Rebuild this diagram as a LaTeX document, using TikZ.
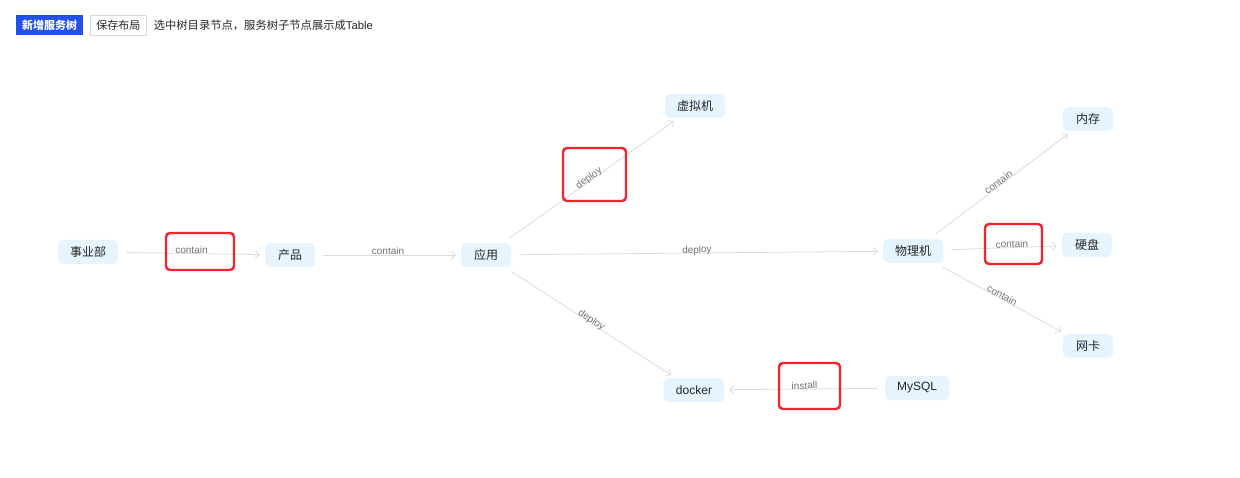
\documentclass[tikz,border=0pt]{standalone}
\usepackage{fontspec}
\setmainfont{Noto Sans CJK SC}
\newfontfamily\latinfont{Liberation Sans}
\usetikzlibrary{arrows.meta,positioning}

\definecolor{nodefill}{HTML}{E6F4FF}
\definecolor{edgegray}{HTML}{DCDCDC}
\definecolor{labelgray}{HTML}{737373}
\definecolor{markred}{HTML}{F5222D}
\definecolor{btnblue}{HTML}{2250E8}
\definecolor{btnborder}{HTML}{D9D9D9}
\definecolor{textdark}{HTML}{262626}

\tikzset{
  treenode/.style={rectangle, rounded corners=5pt, fill=nodefill, text=textdark,
    minimum height=24pt, minimum width=50pt, inner xsep=12pt,
    font=\fontsize{12}{14}\selectfont},
  rel/.style={draw=edgegray, line width=0.8pt,
    -{Straight Barb[length=4pt,width=8pt]}, shorten <=8pt, shorten >=5pt},
  rellabel/.style={sloped, anchor=base, inner sep=0pt, text=labelgray,
    font=\latinfont\fontsize{10}{12}\selectfont},
  markbox/.style={draw=markred, line width=2.4pt, rounded corners=4pt},
  btnmain/.style={rectangle, fill=btnblue, text=white, minimum height=20pt,
    inner xsep=6pt, font=\bfseries\fontsize{11}{13}\selectfont},
  btnplain/.style={rectangle, draw=btnborder, fill=white, text=textdark,
    minimum height=20pt, inner xsep=6pt, font=\fontsize{11}{13}\selectfont},
}

\begin{document}
\begin{tikzpicture}[x=1pt, y=-1pt]
        \useasboundingbox[fill=white] (0,0) rectangle (1240,478);

        % toolbar
        \node[btnmain] (addtree) at (49.5,25) {新增服务树};
        \node[btnplain, right=7pt of addtree] (savelayout) {保存布局};
        \node[right=7pt of savelayout, inner sep=0pt, text=textdark,
              font=\fontsize{11.3}{13}\selectfont] (hint)
              {选中树目录节点，服务树子节点展示成{\latinfont Table}};

        % tree nodes
        \node[treenode] (dept) at (88, 252) {事业部};
        \node[treenode] (prod) at (290, 255) {产品};
        \node[treenode] (app) at (486, 255) {应用};
        \node[treenode] (vm) at (695, 106) {虚拟机};
        \node[treenode] (host) at (913, 251) {物理机};
        \node[treenode, font=\latinfont\fontsize{12}{14}\selectfont] (docker) at (694, 390) {docker};
        \node[treenode, font=\latinfont\fontsize{12}{14}\selectfont] (mysql) at (917, 388) {MySQL};
        \node[treenode] (mem) at (1088, 119) {内存};
        \node[treenode] (disk) at (1087, 245) {硬盘};
        \node[treenode] (nic) at (1088, 346) {网卡};

        % relations
        \draw[rel] (dept) -- node[rellabel] {contain} (prod);
        \draw[rel] (prod) -- node[rellabel] {contain} (app);
        \draw[rel] (app) -- node[rellabel] {deploy} (host);
        \draw[rel] (app) -- node[rellabel] {deploy} (vm);
        \draw[rel] (app) -- node[rellabel] {deploy} (docker);
        \draw[rel] (host) -- node[rellabel] {contain} (mem);
        \draw[rel] (host) -- node[rellabel, pos=0.58] {contain} (disk);
        \draw[rel] (host) -- node[rellabel] {contain} (nic);
        \draw[rel] (mysql) -- node[rellabel] {install} (docker);

        % highlight marks
        \draw[markbox] (166, 233) rectangle (234, 270);
        \draw[markbox] (563, 148) rectangle (626, 201);
        \draw[markbox] (985, 224) rectangle (1042, 264);
        \draw[markbox] (779, 363) rectangle (840, 409);

    \end{tikzpicture}
\end{document}
